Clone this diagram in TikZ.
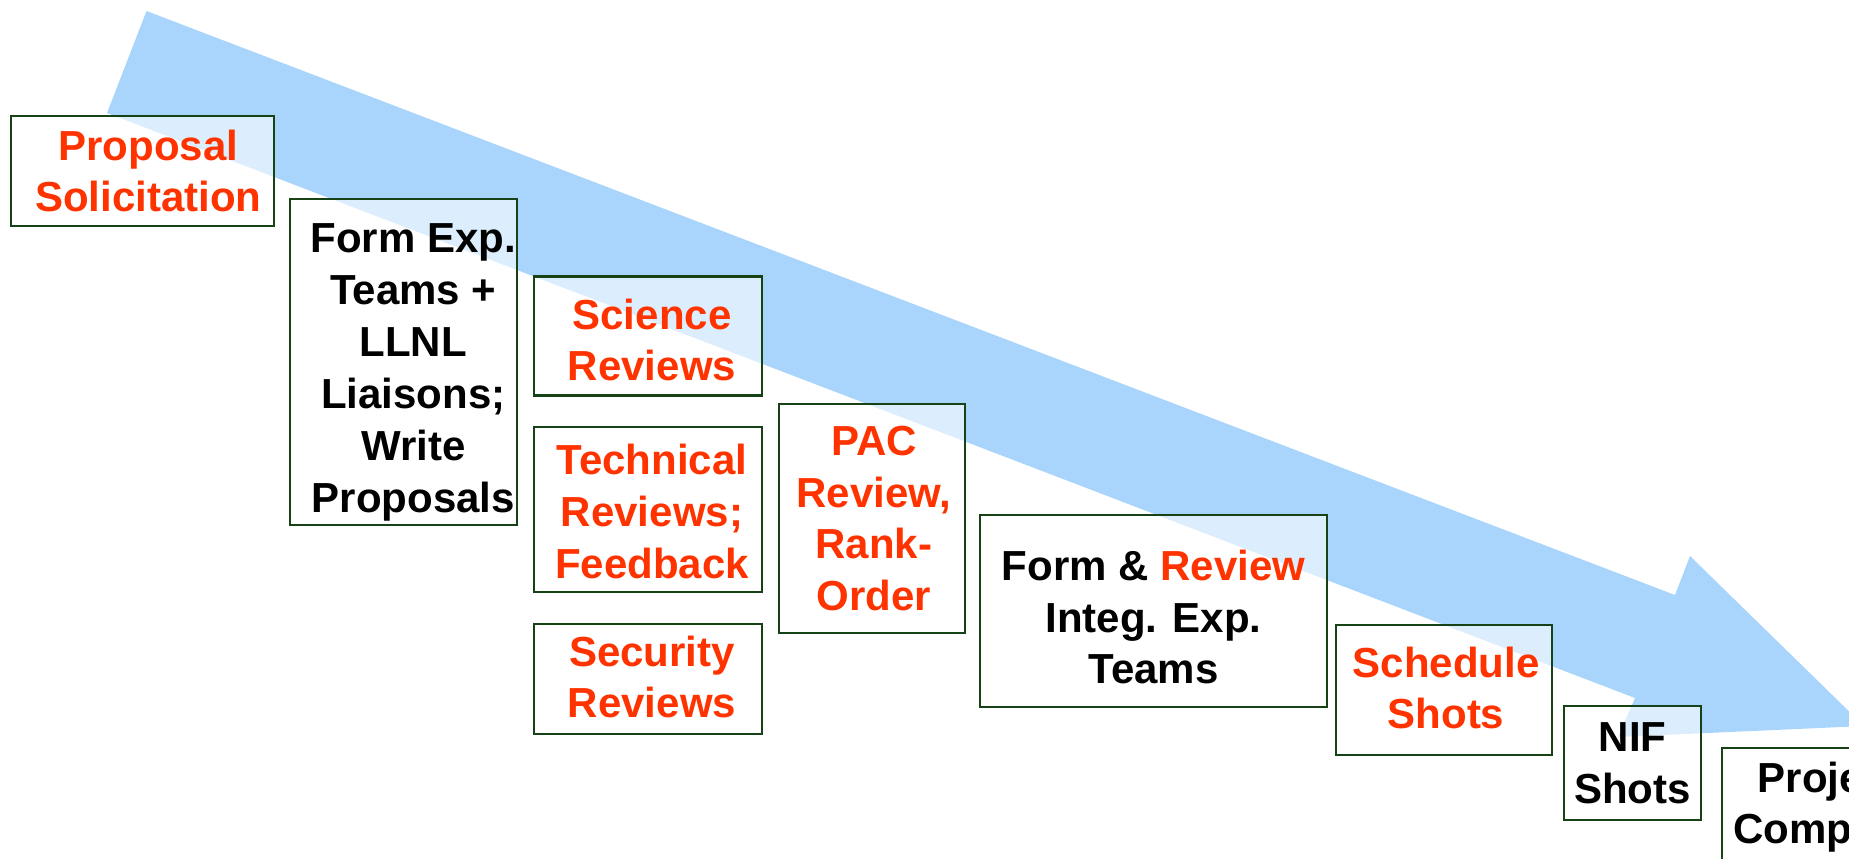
\documentclass[tikz,border=0pt]{standalone}
\usepackage{fontspec}
\setmainfont{Liberation Sans}
\definecolor{boxgreen}{RGB}{22,66,22}
\definecolor{hotred}{RGB}{255,51,0}
\definecolor{flowblue}{RGB}{169,213,252}
\begin{document}
\begin{tikzpicture}[x=0.5pt,y=-0.5pt,
  box/.style={draw=boxgreen, line width=1.1pt, fill=white, fill opacity=0.6,
    text opacity=1, inner sep=0pt},
  lbl/.style={align=center, inner sep=0pt,
    font=\fontsize{21}{25.8}\selectfont\bfseries},
  hot/.style={text=hotred}]
\useasboundingbox (0,0) rectangle (1849,858);
\clip (0,0) rectangle (1849,858);

% the broad process arrow running down to the right
\coordinate (tailTop) at (146.5,11);
\coordinate (notchTop) at (1675,595);
\coordinate (barbTop) at (1690,556);
\coordinate (tip) at (1864,726);
\coordinate (barbBot) at (1618,737);
\coordinate (notchBot) at (1635,698);
\coordinate (tailBot) at (107,113);
\fill[flowblue] (tailTop) -- (notchTop) -- (barbTop) -- (tip) -- (barbBot)
  -- (notchBot) -- (tailBot) -- cycle;

% step frames
\node[box, minimum width=131.7pt, minimum height=55pt]   (b1)   at (142.3,171) {};
\node[box, minimum width=113.3pt, minimum height=163pt]  (b2)   at (403.3,362) {};
\node[box, minimum width=114pt,   minimum height=59.5pt] (sci)  at (648,336) {};
\node[box, minimum width=114pt,   minimum height=82.5pt] (tech) at (648,509.5) {};
\node[box, minimum width=114pt,   minimum height=55pt]   (sec)  at (648,679) {};
\node[box, minimum width=93pt,    minimum height=114.5pt](pac)  at (872,518.5) {};
\node[box, minimum width=173.5pt, minimum height=96.25pt](form) at (1153.5,611) {};
\node[box, minimum width=108pt,   minimum height=65pt]   (sched) at (1444,690) {};
\node[box, minimum width=68.5pt,  minimum height=57pt]   (nif)  at (1632.5,763) {};
\node[box, minimum width=139pt,   minimum height=101pt]  (proj) at (1861,849) {};

% step labels
\node[lbl, hot] (t1) at ([xshift=3pt]b1.center) {Proposal\\Solicitation};
\node[lbl, font=\fontsize{21}{26}\selectfont\bfseries] (t2) at ([xshift=5pt,yshift=-5pt]b2.center) {Form Exp.\\Teams +\\LLNL\\Liaisons;\\Write\\Proposals};
\node[lbl, hot] (t3) at ([xshift=2pt,yshift=-2pt]sci.center) {Science\\Reviews};
\node[lbl, hot] (t4) at ([xshift=2pt,yshift=-1pt]tech.center) {Technical\\Reviews;\\Feedback};
\node[lbl, hot] (t5) at ([xshift=2pt,yshift=1pt]sec.center) {Security\\Reviews};
\node[lbl, hot] (t6) at ([xshift=1pt]pac.center) {PAC\\Review,\\Rank-\\Order};
\node[lbl] (t7) at ([yshift=-3pt]form.center) {Form \& {\color{hotred}Review}\\Integ. Exp.\\Teams};
\node[lbl, hot] (t8) at ([xshift=1pt,yshift=1pt]sched.center) {Schedule\\Shots};
\node[lbl] (t9) at (nif.center) {NIF\\Shots};
\node[lbl] (t10) at (1829,807) {Project\\Complete};
\end{tikzpicture}
\end{document}
